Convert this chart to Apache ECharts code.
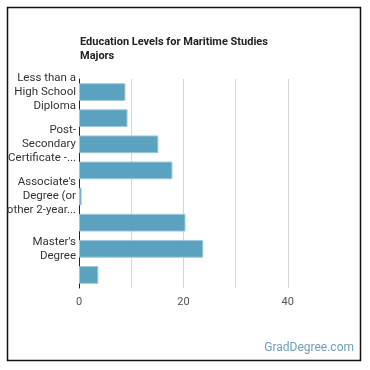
<!DOCTYPE html>
<html>
<head>
<meta charset="utf-8">
<script src="https://cdn.jsdelivr.net/npm/echarts@6/dist/echarts.min.js"></script>
<style>
  html, body { margin: 0; padding: 0; background: #fff; }
  #main { width: 370px; height: 370px; }
</style>
</head>
<body>
<div id="main"></div>
<script>
const categories = [
    "Less than a High School Diploma",
    "High School Diploma",
    "Post-Secondary Certificate - Awarded for training completed after high school (less than 2 years)",
    "Some College Courses",
    "Associate's Degree (or other 2-year degree)",
    "Bachelor's Degree",
    "Master's Degree",
    "Doctorate"
];
const tickLabels = [
    "Less than a\nHigh School\nDiploma",
    "",
    "Post-\nSecondary\nCertificate -...",
    "",
    "Associate's\nDegree (or\nother 2-year...",
    "",
    "Master's\nDegree",
    ""
];
const values = [8.9, 9.3, 15.2, 17.9, 0.5, 20.4, 23.8, 3.7];

const chart = echarts.init(document.getElementById('main'), null, { renderer: 'canvas' });

let option = {
    backgroundColor: "#fff",
    animation: false,
    title: {
        text: "Education Levels for Maritime Studies\nMajors",
        left: 80,
        top: 35,
        padding: 0,
        textStyle: {
            fontFamily: "Roboto",
            fontSize: 11,
            fontWeight: "bold",
            color: "#222",
            lineHeight: 14
        }
    },
    grid: {
        left: 79,
        right: 30,
        top: 79,
        bottom: 82
    },
    xAxis: {
        type: 'value',
        min: 0,
        max: 50,
        interval: 10,
        axisLine: { show: false },
        axisTick: { show: false },
        splitLine: { showMaxLine: false, lineStyle: { color: "#d6d6d6" } },
        axisLabel: {
            fontFamily: "Roboto",
            fontSize: 11,
            color: "#555",
            margin: 9,
            formatter: v => (v % 20 === 0 && v < 50) ? String(v) : ""
        }
    },
    yAxis: {
        type: 'category',
        inverse: true,
        data: categories,
        axisLine: { show: true, lineStyle: { color: "#222" } },
        axisTick: { show: false },
        axisLabel: {
            interval: 0,
            fontFamily: "Roboto",
            fontSize: 11.5,
            color: "#333",
            lineHeight: 14,
            margin: 3,
            formatter: (v, i) => tickLabels[i]
        }
    },
    series: [{
        type: 'bar',
        data: values,
        barCategoryGap: '32%',
        itemStyle: {
            color: "#5aa2bf",
            borderColor: "#9ccbdc",
            borderWidth: 1
        }
    }],
    graphic: [
        {
            type: 'rect',
            shape: { x: 7.5, y: 7.5, width: 353, height: 353 },
            style: { fill: null, stroke: "#111", lineWidth: 1.5 }
        },
        {
            type: 'text',
            right: 16,
            bottom: 16,
            style: {
                text: "GradDegree.com",
                fontFamily: "Roboto",
                fontSize: 12,
                fill: "#6f9fb5"
            }
        }
    ]
};

chart.setOption(option);
</script>
</body>
</html>
